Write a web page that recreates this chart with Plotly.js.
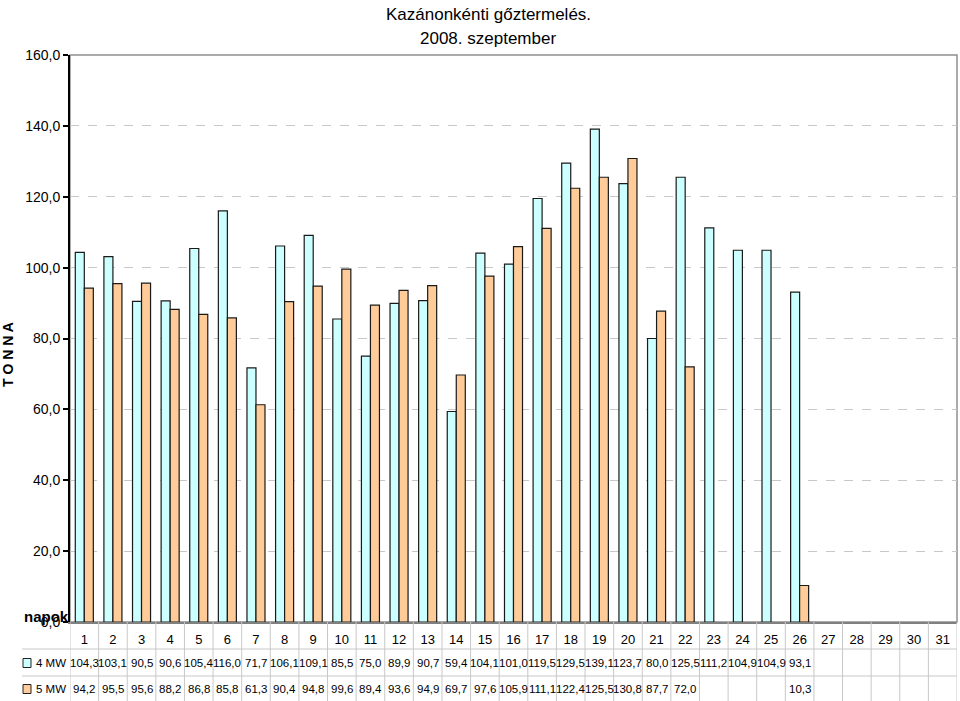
<!DOCTYPE html>
<html>
<head>
<meta charset="utf-8">
<script src="https://cdn.plot.ly/plotly-3.0.1.min.js"></script>
<style>html,body{margin:0;padding:0;background:#fff;}#chart{width:960px;height:701px;}</style>
</head>
<body>
<div id="chart"></div>
<script>
const days = [1,2,3,4,5,6,7,8,9,10,11,12,13,14,15,16,17,18,19,20,21,22,23,24,25,26,27,28,29,30,31];
const seriesNames = ['4 MW', '5 MW'];
const mw4 = [104.3,103.1,90.5,90.6,105.4,116.0,71.7,106.1,109.1,85.5,75.0,89.9,90.7,59.4,104.1,101.0,119.5,129.5,139.1,123.7,80.0,125.5,111.2,104.9,104.9,93.1,null,null,null,null,null];
const mw5 = [94.2,95.5,95.6,88.2,86.8,85.8,61.3,90.4,94.8,99.6,89.4,93.6,94.9,69.7,97.6,105.9,111.1,122.4,125.5,130.8,87.7,72.0,null,null,null,10.3,null,null,null,null,null];
const yTicks = [0,20,40,60,80,100,120,140,160];
const titleLines = ['Kazánonkénti gőztermelés.', '2008. szeptember'];
const yTitle = 'T O N N A';
const xLabel = 'napok';

const colors = ['#ccffff', '#ffcc99'];
const FONT = 'Liberation Sans, Arial, sans-serif';
const fmt = v => (v === null || v === undefined) ? '' : v.toFixed(1).replace('.', ',');

const traces = [mw4, mw5].map((vals, i) => ({
  type: 'bar', name: seriesNames[i], x: days, y: vals,
  marker: {color: colors[i], line: {color: '#1a1a1a', width: 1.2}},
  hoverinfo: 'x+y'
}));

const H = 567, W = 887, BOT = 622;
const rowY = px => -px / H;          // px below the x axis
const topY = py => (BOT - py) / H;   // absolute page y -> paper
const tableBottom = rowY(79);
const shapes = [];
shapes.push({type:'rect', xref:'paper', yref:'paper', x0:0, x1:1, y0:0, y1:1, line:{color:'#909090', width:1.5}, layer:'below'});
for (let i = 0; i <= days.length; i++) {
  shapes.push({type:'line', xref:'x', yref:'paper', x0:days[0]-0.5+i, x1:days[0]-0.5+i, y0:0, y1:tableBottom, line:{color:'#c8c8c8', width:1}});
}
[27, 54].forEach(p => {
  shapes.push({type:'line', xref:'paper', yref:'paper', x0:-48/W, x1:1, y0:rowY(p), y1:rowY(p), line:{color:'#c8c8c8', width:1}});
});
[41, 67].forEach((p, i) => {
  shapes.push({type:'rect', xref:'paper', yref:'paper', x0:-47/W, x1:-39/W, y0:rowY(p-4.5), y1:rowY(p+4.5), fillcolor:colors[i], line:{color:'#222', width:1}});
});

const annotations = [];
[mw4, mw5].forEach((vals, r) => {
  const yc = rowY(41 + r*26);
  annotations.push({xref:'paper', yref:'paper', x:-36/W, y:yc, xanchor:'left', yanchor:'middle', text:seriesNames[r], showarrow:false, font:{family:FONT, size:11.5, color:'#000'}});
  vals.forEach((v, j) => {
    if (v === null) return;
    annotations.push({xref:'x', yref:'paper', x:days[j], y:yc, xanchor:'center', yanchor:'middle', text:fmt(v), showarrow:false, font:{family:FONT, size:11.5, color:'#000'}});
  });
});
annotations.push({xref:'paper', yref:'paper', x:-48/W, y:rowY(-6), xanchor:'left', yanchor:'middle', text:'<b>'+xLabel+'</b>', showarrow:false, font:{family:FONT, size:15, color:'#000'}});
annotations.push({xref:'paper', yref:'paper', x:-62/W, y:topY(355), xanchor:'center', yanchor:'middle', textangle:-90, text:'<b>'+yTitle+'</b>', showarrow:false, font:{family:FONT, size:14, color:'#000'}});
titleLines.forEach((t, k) => {
  annotations.push({xref:'paper', yref:'paper', x:(488-70)/W, y:topY(14 + k*24), xanchor:'center', yanchor:'middle', text:t, showarrow:false, font:{family:FONT, size:17, color:'#000'}});
});

const layout = {
  width: 960, height: 701,
  margin: {l:70, r:3, t:55, b:79},
  paper_bgcolor:'#fff', plot_bgcolor:'#fff',
  separators: ', ',
  showlegend: false,
  barmode: 'group', bargap: 0.37, bargroupgap: 0,
  font: {family: FONT, size: 12, color: '#000'},
  xaxis: {
    range:[0.5, 31.5], tickmode:'array', tickvals: days, ticktext: days.map(String),
    ticks:'outside', ticklen:5, tickcolor:'rgba(0,0,0,0)',
    showgrid:false, zeroline:false, showline:true, linecolor:'#808080', linewidth:1.5,
    tickfont:{family:FONT, size:13, color:'#000'}, fixedrange:true
  },
  yaxis: {
    range:[0,160], tickmode:'array', tickvals: yTicks, tickformat:'.1f',
    ticks:'outside', ticklen:5, tickwidth:2, tickcolor:'#000',
    showgrid:true, gridcolor:'#c8c8c8', griddash:'dash', gridwidth:1,
    zeroline:false, showline:true, linecolor:'#000', linewidth:2,
    tickfont:{family:FONT, size:14, color:'#000'}, fixedrange:true
  },
  shapes: shapes,
  annotations: annotations
};

Plotly.newPlot('chart', traces, layout, {displayModeBar:false, staticPlot:true});
</script>
</body>
</html>
